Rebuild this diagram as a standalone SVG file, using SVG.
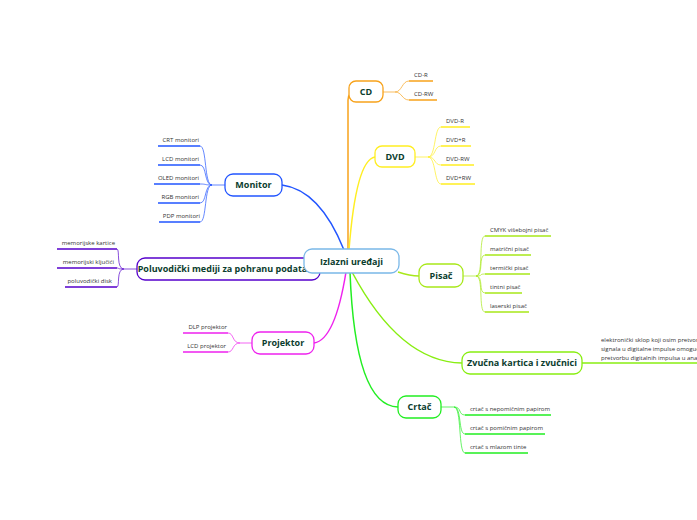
<svg xmlns="http://www.w3.org/2000/svg" width="697" height="520" viewBox="0 0 697 520">
<style>
.n{font-family:"Open Sans","DejaVu Sans",sans-serif;font-weight:bold;font-size:9px;fill:#0b3d2e;text-anchor:middle}
.s{font-family:"Open Sans","DejaVu Sans",sans-serif;font-size:6px;fill:#333}
.r{text-anchor:end}
.b{fill:#fff;stroke-width:1.3}
.c{fill:none;stroke-width:1.5}
.t{fill:none;stroke-width:0.7}
.u{stroke-width:1.6}
</style>
<rect width="697" height="520" fill="#fff"/>
<g id="connectors">
<path class="c" stroke="#f7a21b" stroke-width="2.5" d="M348,250 L348,100 Q348,92 356,92"/>
<path class="c" stroke="#ffee22" d="M349,250 Q356,160 375,157"/>
<path class="c" stroke="#a8e81a" d="M398,272 Q410,276 419,276"/>
<path class="c" stroke="#88ee11" stroke-width="2" d="M352,272 Q400,362 462,363"/>
<path class="c" stroke="#22ee22" stroke-width="2" d="M350,272 Q355,406 398,407"/>
<path class="c" stroke="#2255ff" d="M344,250 Q320,190 282,185"/>
<path class="c" stroke="#5500cc" d="M304,268 L320,268"/>
<path class="c" stroke="#ee22ee" d="M346,272 Q335,340 314,343"/>
<g stroke="#f7a21b"><path class="t" d="M383,92 H395 C402,92 402,81 409,81 M395,92 C402,92 402,100 409,100"/><path class="u" d="M409,81H433M409,100H437"/></g>
<g stroke="#ffee22"><path class="t" d="M415,157 H428 C436,157 434,127 441,127 M428,157 C436,157 434,146 441,146 M428,157 C436,157 434,165 441,165 M428,157 C436,157 434,184 441,184"/><path class="u" d="M441,127H470M441,146H471M441,165H474M441,184H475"/></g>
<g stroke="#a8e81a"><path class="t" d="M463,276 H476 C484,276 478,236 485,236 M476,276 C484,276 478,255 485,255 M476,276 C484,276 478,274 485,274 M476,276 C484,276 478,293 485,293 M476,276 C484,276 478,312 485,312"/><path class="u" d="M485,236H551M485,255H531M485,274H530M485,293H522M485,312H529"/></g>
<g stroke="#88ee11"><path class="u" d="M582,363H697"/></g>
<g stroke="#22ee22"><path class="t" d="M441,407 H454 C462,407 458,415 465,415 M454,407 C462,407 458,434 465,434 M454,407 C462,407 458,453 465,453"/><path class="u" d="M465,415H551M465,434H545M465,453H528"/></g>
<g stroke="#2255ff"><path class="t" d="M225,185 H212 C204,185 207,146 200,146 M212,185 C204,185 207,165 200,165 M212,185 C204,185 207,184 200,184 M212,185 C204,185 207,203 200,203 M212,185 C204,185 207,222 200,222"/><path class="u" d="M158,146H200M158,165H200M154,184H200M158,203H200M159,222H200"/></g>
<g stroke="#5500cc"><path class="t" d="M137,269 H124 C116,269 120,249 117,249 M124,269 C116,269 120,268 117,268 M124,269 C116,269 120,287 117,287"/><path class="u" d="M57,249H117M57,268H117M65,287H117"/></g>
<g stroke="#ee22ee"><path class="t" d="M252,343 H240 C232,343 234,333 228,333 M240,343 C232,343 234,352 228,352"/><path class="u" d="M183,333H228M183,352H228"/></g>
</g>
<g id="cd"><rect class="b" x="349" y="81" width="34" height="21" rx="7" stroke="#f7a21b"/><text class="n" x="366" y="95">CD</text>
<text class="s" x="414" y="77">CD-R</text><text class="s" x="414" y="96">CD-RW</text></g>
<g id="dvd"><rect class="b" x="375" y="146" width="40" height="21" rx="7" stroke="#ffee22"/><text class="n" x="395" y="160">DVD</text>
<text class="s" x="446" y="123">DVD-R</text><text class="s" x="446" y="142">DVD+R</text><text class="s" x="446" y="161">DVD-RW</text><text class="s" x="446" y="180">DVD+RW</text></g>
<g id="pisac"><rect class="b" x="419" y="264" width="44" height="23" rx="8" stroke="#a8e81a"/><text class="n" x="441" y="279">Pisač</text>
<text class="s" x="490" y="232">CMYK višebojni pisač</text><text class="s" x="490" y="251">matrični pisač</text><text class="s" x="490" y="270">termički pisač</text><text class="s" x="490" y="289">tintni pisač</text><text class="s" x="490" y="308">laserski pisač</text></g>
<g id="zvucna"><rect class="b" x="462" y="352" width="120" height="22" rx="8" stroke="#88ee11"/><text class="n" x="522" y="366" font-size="8.5">Zvučna kartica i zvučnici</text>
<text class="s" x="601" y="342">elektronički sklop koji osim pretvorbe</text><text class="s" x="601" y="351">signala u digitalne impulse omogućuje</text><text class="s" x="601" y="360">pretvorbu digitalnih impulsa u analogne</text></g>
<g id="crtac"><rect class="b" x="398" y="396" width="43" height="22" rx="8" stroke="#22ee22"/><text class="n" x="419.5" y="410">Crtač</text>
<text class="s" x="470" y="411">crtač s nepomičnim papirom</text><text class="s" x="470" y="430">crtač s pomičnim papirom</text><text class="s" x="470" y="449">crtač s mlazom tinte</text></g>
<g id="monitor"><rect class="b" x="225" y="174" width="57" height="22" rx="8" stroke="#2255ff"/><text class="n" x="253.5" y="188">Monitor</text>
<text class="s r" x="199" y="142">CRT monitori</text><text class="s r" x="199" y="161">LCD monitori</text><text class="s r" x="199" y="180">OLED monitori</text><text class="s r" x="199" y="199">RGB monitori</text><text class="s r" x="200" y="218">PDP monitori</text></g>
<g id="poluvodicki"><rect class="b" x="137" y="258" width="183" height="22" rx="8" stroke="#5500cc"/><text class="n" x="228" y="272" font-size="8.3">Poluvodički mediji za pohranu podataka</text>
<text class="s r" x="115" y="245">memorijske kartice</text><text class="s r" x="114" y="264">memorijski ključići</text><text class="s r" x="112" y="283">poluvodički disk</text></g>
<g id="projektor"><rect class="b" x="252" y="332" width="62" height="22" rx="8" stroke="#ee22ee"/><text class="n" x="283" y="346">Projektor</text>
<text class="s r" x="227" y="329">DLP projektor</text><text class="s r" x="226" y="348">LCD projektor</text></g>
<g id="center"><rect class="b" x="304" y="249" width="95" height="24" rx="8" stroke="#7ab8e8" stroke-width="2"/><text class="n" x="351.5" y="265" font-size="11">Izlazni uređaji</text></g>
</svg>
